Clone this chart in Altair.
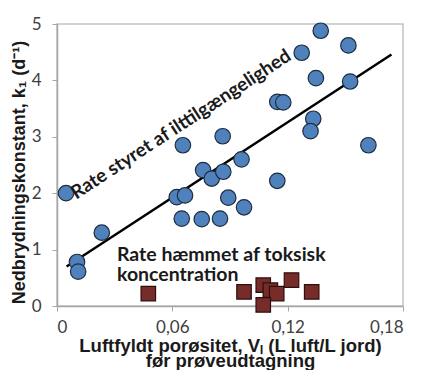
import altair as alt
import pandas as pd

# Blue circles: rate controlled by oxygen availability
blue_x = [0.0047, 0.0104, 0.0110, 0.0233, 0.0655, 0.0862, 0.0760, 0.0805, 0.0865,
          0.0960, 0.1146, 0.0623, 0.0666, 0.0891, 0.0973, 0.0649, 0.0753, 0.0848,
          0.1372, 0.1516, 0.1273, 0.1347, 0.1525, 0.1146, 0.1177, 0.1333, 0.1319, 0.1620]
blue_y = [2.00, 0.78, 0.61, 1.30, 2.85, 3.01, 2.41, 2.26, 2.38,
          2.60, 2.22, 1.93, 1.96, 1.92, 1.75, 1.55, 1.54, 1.55,
          4.88, 4.62, 4.49, 4.04, 3.98, 3.62, 3.61, 3.32, 3.10, 2.85]

# Red squares: rate inhibited by toxic concentration
red_x = [0.0475, 0.0973, 0.1073, 0.1110, 0.1143, 0.1073, 0.1220, 0.1325]
red_y = [0.22, 0.25, 0.37, 0.28, 0.22, 0.02, 0.46, 0.25]

# Trend line end points
trend_x = [0.005, 0.174]
trend_y = [0.70, 4.46]

x_ticks = [0, 0.06, 0.12, 0.18]
y_ticks = [0, 1, 2, 3, 4, 5]

blue = pd.DataFrame({"x": blue_x, "y": blue_y})
red = pd.DataFrame({"x": red_x, "y": red_y})
trend = pd.DataFrame({"x": trend_x, "y": trend_y})

label_expr = "datum.value == 0 ? '0' : replace(format(datum.value, '.2f'), '.', ',')"

xs = alt.Scale(domain=[0, 0.18], nice=False, zero=False)
ys = alt.Scale(domain=[0, 5], nice=False, zero=False)

x_enc = alt.X("x:Q", scale=xs, axis=alt.Axis(
    values=x_ticks, labelExpr=label_expr,
    title=["Luftfyldt porøsitet, Vₗ (L luft/L jord)", "før prøveudtagning"],
    titleX=173, titleY=39, titleAnchor="middle", titleAlign="center",
    titleBaseline="middle", titleLineHeight=15, titleFontSize=18.5))
y_enc = alt.Y("y:Q", scale=ys, axis=alt.Axis(
    values=y_ticks, format="d",
    title="Nedbrydningskonstant, k₁ (d⁻¹)",
    titleX=-38, titleY=148, titleAngle=270, titleAnchor="middle", titleAlign="center",
    titleBaseline="middle", titleFontSize=18))

line = alt.Chart(trend).mark_line(color="black", strokeWidth=2.5).encode(x=x_enc, y=y_enc)

pts = alt.Chart(blue).mark_point(
    shape="circle", filled=True, size=240, fill="#4F81BD", stroke="#1f2d40",
    strokeWidth=1.2, opacity=1).encode(x="x:Q", y="y:Q")

sq = alt.Chart(red).mark_point(
    shape="square", filled=True, size=210, fill="#772C2A", stroke="#2e0f0f",
    strokeWidth=1.2, opacity=1).encode(x="x:Q", y="y:Q")

txt1 = alt.Chart(pd.DataFrame({"x": [0.0645], "y": [3.22], "t": ["Rate styret af ilttilgængelighed"]})).mark_text(
    font="Lato", fontWeight="bold", fontSize=19, angle=327, align="center", baseline="middle",
    color="#1a1a1a").encode(x="x:Q", y="y:Q", text="t:N")

txt2 = alt.Chart(pd.DataFrame({"x": [0.0312, 0.0312], "y": [0.90, 0.55],
                               "t": ["Rate hæmmet af toksisk", "koncentration"]})).mark_text(
    font="Lato", fontWeight="bold", fontSize=19.5, align="left", baseline="middle",
    color="#1a1a1a").encode(x="x:Q", y="y:Q", text="t:N")

chart = alt.layer(line, pts, sq, txt1, txt2).properties(
    width=346, height=282,
    autosize=alt.AutoSizeParams(type="none"),
    padding={"left": 49, "top": 16, "right": 5, "bottom": 64},
).configure_view(stroke="#c4c4c4", strokeWidth=1.5).configure_axis(
    grid=False, domainColor="#a6a6a6", domainWidth=1.5, tickColor="#a6a6a6", tickSize=5,
    labelFont="Lato", labelFontSize=17, labelColor="#404040",
    titleFont="Liberation Sans", titleFontWeight="bold", titleColor="#1a1a1a",
).configure_axisY(labelPadding=11).configure_axisX(labelPadding=8)

chart.save("out.html", embed_options={"renderer": "svg", "actions": False})
